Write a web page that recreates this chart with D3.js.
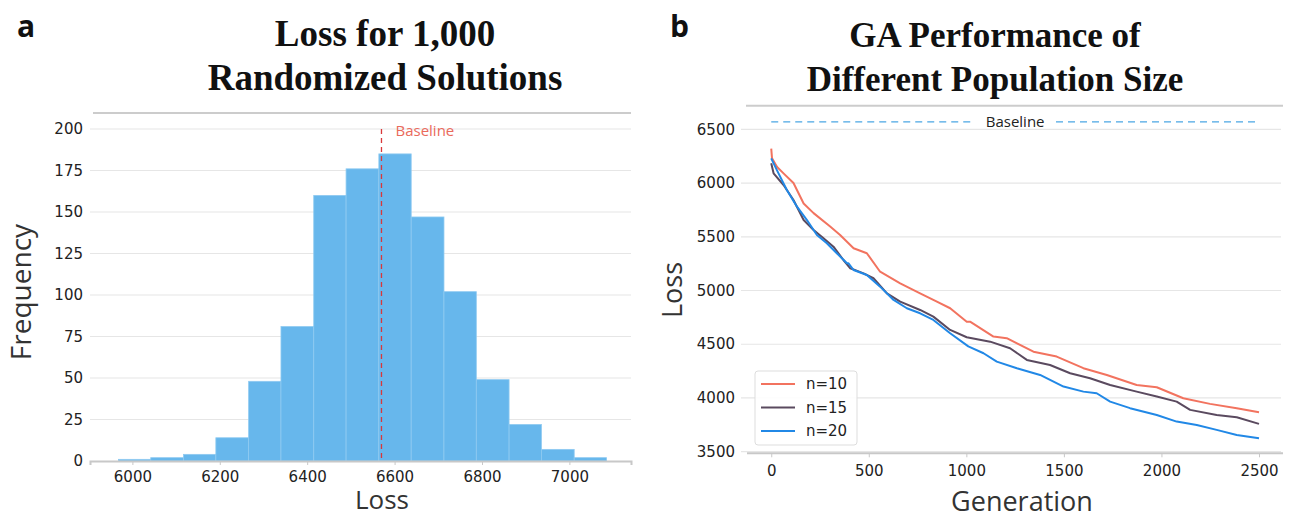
<!DOCTYPE html>
<html>
<head>
<meta charset="utf-8">
<script src="https://cdn.jsdelivr.net/npm/d3@7"></script>
<style>
  body { margin: 0; background: #fff; }
  svg { display: block; }
</style>
</head>
<body>
<svg width="1293" height="518"></svg>
<script>
// Panel a: histogram of loss for 1,000 random solutions
const binEdges = [5968, 6042, 6117, 6191, 6266, 6340, 6415, 6489, 6564, 6638, 6713, 6787, 6862, 6936, 7011, 7085];
const freq = [1, 2, 4, 14, 48, 81, 160, 176, 185, 147, 102, 49, 22, 7, 2];
const baselineLoss = 6570;
const histXTicks = [6000, 6200, 6400, 6600, 6800, 7000];
const histYTicks = [0, 25, 50, 75, 100, 125, 150, 175, 200];

// Panel b: GA loss curves, [generation, loss]
const seriesNames = ["n=10", "n=15", "n=20"];
const lossN10 = [[0,6320],[4,6230],[30,6150],[63,6090],[114,6000],[166,5810],[217,5720],[302,5595],[353,5517],[422,5393],[490,5347],[558,5175],[661,5067],[763,4974],[849,4896],[917,4835],[1002,4710],[1019,4710],[1139,4571],[1207,4556],[1344,4431],[1463,4385],[1600,4277],[1720,4214],[1873,4121],[1976,4100],[2112,3997],[2249,3945],[2386,3905],[2500,3867]];
const lossN15 = [[0,6184],[12,6091],[63,5982],[114,5842],[166,5656],[217,5563],[268,5486],[319,5408],[370,5284],[405,5207],[473,5160],[524,5114],[593,4974],[661,4896],[763,4819],[831,4757],[917,4633],[1002,4565],[1122,4524],[1224,4463],[1310,4354],[1429,4307],[1532,4230],[1634,4184],[1737,4121],[1873,4059],[1976,4013],[2078,3966],[2147,3889],[2283,3842],[2386,3821],[2500,3759]];
const lossN20 = [[0,6230],[29,6121],[80,5935],[132,5780],[183,5656],[234,5517],[285,5440],[336,5347],[388,5253],[396,5253],[422,5191],[490,5144],[558,5036],[627,4912],[695,4835],[763,4788],[831,4726],[917,4602],[1010,4480],[1088,4416],[1156,4338],[1259,4277],[1378,4214],[1498,4106],[1600,4059],[1668,4044],[1737,3966],[1839,3905],[1976,3842],[2078,3780],[2181,3749],[2283,3703],[2386,3656],[2500,3625]];
const gaXTicks = [0, 500, 1000, 1500, 2000, 2500];
const gaYTicks = [3500, 4000, 4500, 5000, 5500, 6000, 6500];

const colors = ["#f2735f", "#5a4a5f", "#2188e6"];
const tickFont = "DejaVu Sans, sans-serif";
const labelFont = "Open Sans, sans-serif";
const titleFont = "Liberation Serif, Times New Roman, serif";

const svg = d3.select("svg");

// ---------- panel a ----------
const xa = d3.scaleLinear().domain([5903, 7141]).range([90, 631]);
const ya = d3.scaleLinear().domain([0, 200]).range([461, 129]);

const ga = svg.append("g");

// grid
ga.append("g")
  .selectAll("line")
  .data(histYTicks.slice(1))
  .join("line")
    .attr("x1", 90).attr("x2", 631)
    .attr("y1", d => ya(d)).attr("y2", d => ya(d))
    .attr("stroke", "#e6e6e6").attr("stroke-width", 1.2);

// top frame line
ga.append("line")
  .attr("x1", 93).attr("x2", 631).attr("y1", 113).attr("y2", 113)
  .attr("stroke", "#cccccc").attr("stroke-width", 2);

// bars
ga.append("g")
  .selectAll("rect")
  .data(freq)
  .join("rect")
    .attr("x", (d, i) => xa(binEdges[i]))
    .attr("width", (d, i) => xa(binEdges[i + 1]) - xa(binEdges[i]))
    .attr("y", d => ya(d))
    .attr("height", d => ya(0) - ya(d))
    .attr("fill", "#67b7ec")
    .attr("stroke", "#8fcaf1")
    .attr("stroke-width", 0.8);

// x axis
const xAxisA = ga.append("g")
  .attr("transform", `translate(0,${ya(0)})`)
  .call(d3.axisBottom(xa).tickValues(histXTicks).tickFormat(d3.format("d")).tickSize(4).tickPadding(6));
xAxisA.select(".domain").attr("stroke", "#c8c8c8").attr("stroke-width", 2);
xAxisA.selectAll(".tick line").attr("stroke", "#c8c8c8");
xAxisA.selectAll(".tick text").attr("font-family", tickFont).attr("font-size", 15).attr("fill", "#222");

// y tick labels
ga.append("g")
  .selectAll("text")
  .data(histYTicks)
  .join("text")
    .attr("x", 83).attr("y", d => ya(d)).attr("dy", "0.35em")
    .attr("text-anchor", "end")
    .attr("font-family", tickFont).attr("font-size", 15).attr("fill", "#222")
    .text(d => d);

// baseline
ga.append("line")
  .attr("x1", xa(baselineLoss)).attr("x2", xa(baselineLoss))
  .attr("y1", ya(200)).attr("y2", ya(0))
  .attr("stroke", "#d9383a").attr("stroke-width", 1.3)
  .attr("stroke-dasharray", "5,4");
ga.append("text")
  .attr("x", xa(baselineLoss) + 14).attr("y", ya(200) + 7)
  .attr("font-family", labelFont).attr("font-size", 15).attr("fill", "#ea6a5c")
  .text("Baseline");

// labels
ga.append("text")
  .attr("transform", "translate(31,292) rotate(-90)")
  .attr("text-anchor", "middle")
  .attr("font-family", labelFont).attr("font-size", 28).attr("fill", "#333")
  .text("Frequency");
ga.append("text")
  .attr("x", 382).attr("y", 509)
  .attr("text-anchor", "middle")
  .attr("font-family", labelFont).attr("font-size", 26).attr("fill", "#333")
  .text("Loss");
ga.append("text")
  .attr("text-anchor", "middle")
  .attr("font-family", titleFont).attr("font-weight", "bold").attr("font-size", 37).attr("fill", "#111")
  .selectAll("tspan")
  .data(["Loss for 1,000", "Randomized Solutions"])
  .join("tspan")
    .attr("x", 385).attr("y", (d, i) => 46 + i * 44)
    .text(d => d);
ga.append("text")
  .attr("x", 17).attr("y", 37)
  .attr("font-family", labelFont).attr("font-weight", "bold").attr("font-size", 30).attr("fill", "#111")
  .text("a");

// ---------- panel b ----------
const xb = d3.scaleLinear().domain([-155, 2623]).range([741, 1283]);
const yb = d3.scaleLinear().domain([3485, 6720]).range([453.3, 105.7]);

const gb = svg.append("g");

gb.append("g")
  .selectAll("line")
  .data(gaYTicks)
  .join("line")
    .attr("x1", 741).attr("x2", 1281)
    .attr("y1", d => yb(d)).attr("y2", d => yb(d))
    .attr("stroke", "#e6e6e6").attr("stroke-width", 1.2);

gb.append("line")
  .attr("x1", 746).attr("x2", 1283).attr("y1", 105.7).attr("y2", 105.7)
  .attr("stroke", "#cccccc").attr("stroke-width", 2);

const xAxisB = gb.append("g")
  .attr("transform", `translate(0,${yb(3485)})`)
  .call(d3.axisBottom(xb).tickValues(gaXTicks).tickFormat(d3.format("d")).tickSize(4).tickPadding(8));
xAxisB.select(".domain").attr("d", `M747,0H1283`).attr("stroke", "#c8c8c8").attr("stroke-width", 2);
xAxisB.selectAll(".tick line").attr("stroke", "#c8c8c8");
xAxisB.selectAll(".tick text").attr("font-family", tickFont).attr("font-size", 15).attr("fill", "#222");

gb.append("g")
  .selectAll("text")
  .data(gaYTicks)
  .join("text")
    .attr("x", 735).attr("y", d => yb(d)).attr("dy", "0.35em")
    .attr("text-anchor", "end")
    .attr("font-family", tickFont).attr("font-size", 15).attr("fill", "#222")
    .text(d => d);

// baseline dashed with gap for label
const baseY = yb(baselineLoss);
const gapL = 975, gapR = 1056;
gb.append("g")
  .selectAll("line")
  .data([[xb(0), gapL], [gapR, xb(2500)]])
  .join("line")
    .attr("x1", d => d[0]).attr("x2", d => d[1])
    .attr("y1", baseY).attr("y2", baseY)
    .attr("stroke", "#4ba6e3").attr("stroke-width", 1.2)
    .attr("stroke-dasharray", "7,5");
gb.append("text")
  .attr("x", xb(1250)).attr("y", baseY).attr("dy", "0.35em")
  .attr("text-anchor", "middle")
  .attr("font-family", labelFont).attr("font-size", 15).attr("fill", "#222")
  .text("Baseline");

const line = d3.line().x(d => xb(d[0])).y(d => yb(d[1]));
gb.append("g")
  .selectAll("path")
  .data([lossN10, lossN15, lossN20])
  .join("path")
    .attr("d", line)
    .attr("fill", "none")
    .attr("stroke", (d, i) => colors[i])
    .attr("stroke-width", 2)
    .attr("stroke-linejoin", "round");

// legend
const lg = gb.append("g").attr("transform", "translate(755,371)");
lg.append("rect")
  .attr("width", 102).attr("height", 74).attr("rx", 3)
  .attr("fill", "#fff").attr("fill-opacity", 0.9)
  .attr("stroke", "#dddddd");
const item = lg.selectAll("g.item")
  .data(seriesNames)
  .join("g")
    .attr("class", "item")
    .attr("transform", (d, i) => `translate(0,${13 + i * 23.5})`);
item.append("line")
  .attr("x1", 6).attr("x2", 40)
  .attr("stroke", (d, i) => colors[i]).attr("stroke-width", 2);
item.append("text")
  .attr("x", 51).attr("dy", "0.35em")
  .attr("font-family", tickFont).attr("font-size", 15).attr("fill", "#222")
  .text(d => d);

gb.append("text")
  .attr("transform", "translate(682,290) rotate(-90)")
  .attr("text-anchor", "middle")
  .attr("font-family", labelFont).attr("font-size", 27).attr("fill", "#333")
  .text("Loss");
gb.append("text")
  .attr("x", 1022).attr("y", 511)
  .attr("text-anchor", "middle")
  .attr("font-family", labelFont).attr("font-size", 27).attr("fill", "#333")
  .text("Generation");
gb.append("text")
  .attr("font-family", titleFont).attr("font-weight", "bold").attr("font-size", 35).attr("fill", "#111")
  .attr("text-anchor", "middle")
  .selectAll("tspan")
  .data(["GA Performance of", "Different Population Size"])
  .join("tspan")
    .attr("x", 995).attr("y", (d, i) => 47 + i * 44)
    .text(d => d);
gb.append("text")
  .attr("x", 670).attr("y", 37)
  .attr("font-family", labelFont).attr("font-weight", "bold").attr("font-size", 30).attr("fill", "#111")
  .text("b");
</script>
</body>
</html>
